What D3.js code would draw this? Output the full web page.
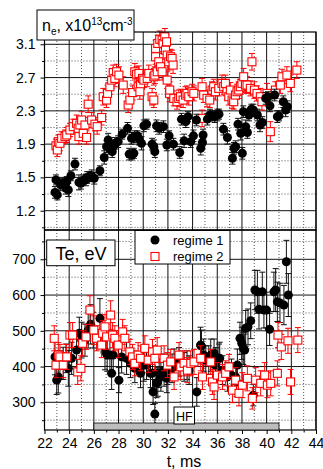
<!DOCTYPE html>
<html>
<head>
<meta charset="utf-8">
<script src="https://cdn.jsdelivr.net/npm/d3@7/dist/d3.min.js"></script>
<style>
    body { margin: 0; background: #fff; }
    svg { display: block; font-family: "Liberation Sans", Arial, sans-serif; }
</style>
</head>
<body>
<svg id="chart" width="323" height="469"></svg>
<script>
// time axis (ms)
const t_ticks = [22, 24, 26, 28, 30, 32, 34, 36, 38, 40, 42, 44];
const t_minor = [23, 25, 27, 29, 31, 33, 35, 37, 39, 41, 43];

// density axis, the lowest label reads "1.2" in the source
const ne_ticks = [1.1, 1.5, 1.9, 2.3, 2.7, 3.1];
const ne_tick_labels = ['1.2', '1.5', '1.9', '2.3', '2.7', '3.1'];
const ne_minor = [0.9, 1.3, 1.7, 2.1, 2.5, 2.9];

const te_ticks = [300, 400, 500, 600, 700];
const te_minor = [250, 350, 450, 550, 650, 750];

const hf_window = [26, 41];

// [t, value, error]
const ne_regime1 = [
    [22.85,1.32,0.07],[23.04,1.29,0.06],[22.93,1.47,0.06],[23.31,1.41,0.07],[23.52,1.43,0.06],[23.74,1.37,0.07],
    [23.8,1.45,0.06],[23.93,1.35,0.08],[24.14,1.52,0.06],[24.47,1.66,0.07],[24.79,1.44,0.09],[24.95,1.43,0.07],
    [25.14,1.47,0.06],[25.36,1.47,0.07],[25.46,1.5,0.07],[25.62,1.51,0.06],[25.82,1.52,0.07],[26.03,1.49,0.07],
    [26.49,1.58,0.06],[26.84,1.74,0.08],[27.03,1.87,0.07],[27.16,1.95,0.08],[27.3,1.85,0.07],[27.49,1.81,0.07],
    [27.57,1.87,0.06],[27.7,1.91,0.07],[27.97,1.93,0.07],[28.3,2.02,0.06],[28.73,2.09,0.07],[28.86,1.78,0.07],
    [29.08,1.77,0.06],[29.24,1.79,0.06],[29.05,1.97,0.07],[29.3,1.99,0.07],[29.54,2.0,0.06],[29.67,1.96,0.07],
    [29.86,1.91,0.08],[30.05,2.12,0.07],[30.27,2.14,0.06],[30.72,1.9,0.07],[30.86,1.87,0.08],[30.94,1.81,0.07],
    [31.08,2.12,0.07],[31.29,2.09,0.07],[31.64,2.11,0.07],[31.91,1.89,0.07],[32.1,2.0,0.06],[32.45,1.9,0.07],
    [32.96,1.8,0.07],[33.1,2.2,0.07],[33.31,1.94,0.08],[33.45,2.17,0.07],[33.63,2.23,0.06],[33.85,1.93,0.07],
    [34.07,2.0,0.07],[34.31,2.19,0.07],[34.66,1.85,0.08],[34.8,1.92,0.07],[34.85,2.01,0.07],[35.2,2.2,0.07],
    [35.41,2.25,0.07],[35.61,2.24,0.06],[35.79,2.23,0.07],[36.01,2.25,0.07],[36.14,2.26,0.06],[36.5,2.08,0.07],
    [36.82,1.98,0.08],[37.23,1.73,0.07],[37.36,1.85,0.07],[37.49,1.87,0.07],[37.68,2.14,0.07],[37.9,2.03,0.08],
    [38.03,1.79,0.07],[38.11,2.29,0.07],[38.3,2.11,0.08],[38.44,2.04,0.07],[38.57,2.25,0.07],[38.76,2.32,0.06],
    [38.92,2.31,0.07],[39.25,2.25,0.07],[39.46,2.13,0.08],[39.65,2.16,0.07],[39.92,2.45,0.07],[40.1,2.47,0.06],
    [40.27,2.36,0.07],[40.65,2.49,0.07],[40.87,2.23,0.07],[41.0,2.24,0.06],[41.35,2.41,0.07],[41.54,2.31,0.08],
    [41.68,2.35,0.07]
];

const ne_regime2 = [
    [22.93,1.88,0.08],[23.04,1.83,0.08],[23.12,1.93,0.08],[23.25,1.91,0.09],[23.39,1.97,0.08],[23.66,1.99,0.08],
    [23.8,2.01,0.09],[24.06,2.07,0.08],[24.33,2.11,0.09],[24.6,2.15,0.1],[24.73,2.09,0.08],[24.79,1.99,0.09],
    [24.87,2.13,0.08],[25.01,2.19,0.1],[25.14,2.03,0.09],[25.28,2.13,0.09],[25.41,1.98,0.08],[25.54,2.38,0.1],
    [25.82,2.19,0.09],[26.09,2.14,0.08],[26.27,2.11,0.09],[26.63,2.22,0.09],[26.76,2.47,0.1],[27.03,2.43,0.09],
    [27.11,2.51,0.1],[27.3,2.59,0.09],[27.44,2.67,0.1],[27.57,2.76,0.09],[27.7,2.69,0.1],[27.84,2.77,0.09],
    [28.03,2.73,0.1],[28.38,2.61,0.1],[28.78,2.37,0.09],[28.92,2.43,0.09],[29.14,2.52,0.09],[29.32,2.77,0.1],
    [29.46,2.74,0.09],[29.59,2.59,0.1],[29.65,2.75,0.09],[29.78,2.61,0.1],[29.73,2.53,0.09],[29.94,2.69,0.1],
    [30.05,2.67,0.09],[30.32,2.69,0.1],[30.45,2.75,0.1],[30.72,2.47,0.1],[30.86,2.43,0.09],[30.86,2.71,0.1],
    [30.94,2.73,0.1],[31.0,3.05,0.1],[31.0,2.95,0.09],[31.13,2.77,0.1],[31.18,3.11,0.1],[31.26,2.89,0.1],
    [31.34,3.16,0.1],[31.4,2.83,0.1],[31.53,3.15,0.09],[31.53,2.77,0.1],[31.61,3.11,0.1],[31.75,3.19,0.1],
    [31.8,3.03,0.1],[31.89,3.13,0.09],[31.94,2.97,0.1],[31.94,2.67,0.1],[32.07,2.89,0.1],[32.13,2.51,0.1],
    [32.15,2.55,0.1],[32.21,2.95,0.09],[32.34,2.93,0.1],[32.42,2.85,0.1],[32.48,2.45,0.09],[32.74,2.41,0.09],
    [32.88,2.45,0.1],[33.02,2.47,0.09],[33.23,2.43,0.09],[33.42,2.49,0.1],[33.55,2.51,0.09],[33.69,2.47,0.1],
    [33.96,2.53,0.09],[34.1,2.51,0.09],[34.77,2.59,0.1],[34.77,2.21,0.1],[34.9,2.49,0.09],[35.17,2.45,0.1],
    [35.39,2.43,0.09],[35.58,2.55,0.1],[35.71,2.59,0.09],[35.85,2.53,0.1],[36.12,2.57,0.09],[36.38,2.63,0.1],
    [36.52,2.59,0.09],[36.66,2.63,0.1],[36.79,2.53,0.09],[36.93,2.47,0.1],[37.06,2.55,0.09],[37.2,2.43,0.1],
    [37.33,2.41,0.09],[37.47,2.49,0.1],[37.6,2.53,0.09],[37.74,2.55,0.1],[37.87,2.59,0.09],[38.0,2.63,0.1],
    [38.14,2.71,0.1],[38.28,2.61,0.09],[38.41,2.61,0.1],[38.68,2.57,0.09],[38.81,2.89,0.1],[39.01,2.55,0.1],
    [39.22,2.51,0.09],[39.49,2.47,0.1],[39.62,2.41,0.1],[40.03,2.51,0.12],[40.3,2.05,0.12],[40.71,2.55,0.1],
    [41.11,2.61,0.1],[41.24,2.71,0.09],[41.64,2.73,0.1],[41.92,2.63,0.1],[42.45,2.79,0.1]
];

const te_regime1 = [
    [22.85,427,50],[22.99,362,40],[23.12,371,45],[23.25,404,40],[23.52,409,45],[23.74,423,40],[23.93,395,50],
    [24.2,423,45],[24.6,446,50],[24.82,493,45],[25.01,474,50],[25.28,474,45],[25.54,502,50],[25.74,518,55],
    [25.95,502,50],[26.49,535,55],[26.9,441,50],[27.08,432,45],[27.3,432,50],[27.44,381,45],[27.57,432,50],
    [28.03,362,35],[28.25,427,45],[28.65,423,45],[28.97,409,40],[29.32,395,40],[29.78,381,40],[30.05,404,45],
    [30.27,404,40],[30.59,381,40],[30.75,381,40],[30.8,329,35],[30.94,267,30],[31.08,353,40],[31.18,357,40],
    [31.29,381,40],[31.43,371,40],[31.69,390,45],[31.91,367,40],[31.94,390,40],[32.34,395,40],[32.5,409,40],
    [32.9,413,40],[33.31,399,40],[33.55,404,40],[33.72,390,40],[34.34,329,40],[34.64,460,50],[34.72,457,45],
    [34.9,432,45],[35.07,418,40],[35.31,418,40],[35.47,432,45],[35.74,437,40],[35.85,404,40],[35.88,413,40],
    [36.14,423,40],[36.2,423,45],[36.42,390,40],[36.82,371,40],[37.15,376,45],[37.49,371,40],[37.57,357,40],
    [37.63,404,45],[37.84,479,45],[37.98,465,45],[38.11,451,45],[38.22,446,45],[38.3,507,50],[38.49,511,50],
    [38.71,528,50],[38.92,320,30],[39.05,614,55],[39.25,609,60],[39.38,560,55],[39.65,609,55],[39.78,558,50],
    [40.0,558,50],[40.24,504,45],[40.59,609,55],[40.73,614,60],[40.87,581,55],[41.08,578,55],[41.4,572,55],
    [41.6,693,60],[41.76,600,60]
];

const te_regime2 = [
    [22.79,479,35],[22.93,404,35],[23.12,432,35],[23.25,427,35],[23.52,404,35],[23.8,427,35],[24.06,488,35],
    [24.28,488,35],[24.69,385,35],[24.95,395,35],[25.09,465,35],[25.36,483,35],[25.68,558,40],[26.0,502,40],
    [26.22,479,35],[26.63,460,35],[26.71,493,35],[26.9,511,35],[27.03,483,35],[27.36,544,40],[27.52,488,35],
    [27.7,479,35],[27.97,460,35],[28.33,497,35],[28.51,479,35],[28.92,441,35],[29.13,427,35],[29.32,409,35],
    [29.59,432,35],[29.78,423,35],[30.13,451,35],[30.4,418,35],[30.75,441,35],[30.94,423,35],[31.13,446,35],
    [31.69,423,35],[31.97,404,35],[32.23,413,35],[32.5,371,35],[32.9,432,35],[33.04,399,35],[33.31,409,35],
    [33.58,390,35],[33.85,409,35],[34.12,413,35],[34.66,423,35],[34.8,371,35],[35.47,413,35],[35.61,357,35],
    [35.74,343,35],[36.01,376,35],[36.42,371,35],[36.68,381,35],[36.95,399,35],[37.23,334,35],[37.49,362,35],
    [37.76,325,35],[38.03,348,35],[38.44,367,35],[38.84,311,30],[39.11,362,35],[39.52,353,35],[39.84,376,35],
    [40.06,348,35],[40.33,353,35],[40.87,381,35],[40.92,488,35],[41.19,455,35],[41.73,472,35],[41.94,357,35],
    [42.53,474,35]
];

const frame = { left: 44.5, right: 316, top: 32, mid: 230, bottom: 430 };
const red = '#ff0000';

const svg = d3.select('#chart');

const x = d3.scaleLinear().domain([22, 44]).range([frame.left, frame.right]);
const y_ne = d3.scaleLinear().domain([1.1, 3.1]).range([210.7, 44.3]);
const y_te = d3.scaleLinear().domain([300, 700]).range([402.3, 259.3]);

function draw_grid(y, top, bottom, major, minor) {
    const g = svg.append('g').attr('class', 'grid');

    g.selectAll('.vmin').data(t_minor).enter().append('line')
        .attr('x1', d => x(d)).attr('x2', d => x(d))
        .attr('y1', top).attr('y2', bottom)
        .attr('stroke', '#555').attr('stroke-width', 1).attr('stroke-dasharray', '1,2');

    g.selectAll('.hmin').data(minor.filter(d => y(d) > top && y(d) < bottom)).enter().append('line')
        .attr('x1', frame.left).attr('x2', frame.right)
        .attr('y1', d => y(d)).attr('y2', d => y(d))
        .attr('stroke', '#555').attr('stroke-width', 1).attr('stroke-dasharray', '1,2');

    g.selectAll('.vmaj').data(t_ticks).enter().append('line')
        .attr('x1', d => x(d)).attr('x2', d => x(d))
        .attr('y1', top).attr('y2', bottom)
        .attr('stroke', '#111').attr('stroke-width', 1);

    g.selectAll('.hmaj').data(major).enter().append('line')
        .attr('x1', frame.left).attr('x2', frame.right)
        .attr('y1', d => y(d)).attr('y2', d => y(d))
        .attr('stroke', '#111').attr('stroke-width', 1);
}

function draw_points(y, data, kind) {
    const g = svg.append('g');
    const color = kind === 'circle' ? '#111' : red;
    const cap = 3;

    const bars = g.selectAll('.err').data(data).enter().append('g');
    bars.append('line')
        .attr('x1', d => x(d[0])).attr('x2', d => x(d[0]))
        .attr('y1', d => y(d[1] - d[2])).attr('y2', d => y(d[1] + d[2]))
        .attr('stroke', color).attr('stroke-width', 1);
    bars.append('line')
        .attr('x1', d => x(d[0]) - cap).attr('x2', d => x(d[0]) + cap)
        .attr('y1', d => y(d[1] + d[2])).attr('y2', d => y(d[1] + d[2]))
        .attr('stroke', color).attr('stroke-width', 1);
    bars.append('line')
        .attr('x1', d => x(d[0]) - cap).attr('x2', d => x(d[0]) + cap)
        .attr('y1', d => y(d[1] - d[2])).attr('y2', d => y(d[1] - d[2]))
        .attr('stroke', color).attr('stroke-width', 1);

    if (kind === 'circle') {
        g.selectAll('.pt').data(data).enter().append('circle')
            .attr('cx', d => x(d[0])).attr('cy', d => y(d[1]))
            .attr('r', 4.5).attr('fill', '#000');
    } else {
        const s = 8;
        g.selectAll('.pt').data(data).enter().append('rect')
            .attr('x', d => x(d[0]) - s / 2).attr('y', d => y(d[1]) - s / 2)
            .attr('width', s).attr('height', s)
            .attr('fill', '#fff').attr('stroke', red).attr('stroke-width', 1.1);
    }
}

// grids
draw_grid(y_ne, frame.top, frame.mid, ne_ticks, ne_minor);
draw_grid(y_te, frame.mid, frame.bottom, te_ticks, te_minor);

// data
draw_points(y_ne, ne_regime2, 'square');
draw_points(y_ne, ne_regime1, 'circle');
draw_points(y_te, te_regime1, 'circle');
draw_points(y_te, te_regime2, 'square');

// frames
svg.append('rect')
    .attr('x', frame.left).attr('y', frame.top)
    .attr('width', frame.right - frame.left).attr('height', frame.mid - frame.top)
    .attr('fill', 'none').attr('stroke', '#000').attr('stroke-width', 1.2);
svg.append('rect')
    .attr('x', frame.left).attr('y', frame.mid)
    .attr('width', frame.right - frame.left).attr('height', frame.bottom - frame.mid)
    .attr('fill', 'none').attr('stroke', '#000').attr('stroke-width', 1.2);

// axes
function style_axis(g) {
    g.select('.domain').remove();
    g.selectAll('.tick line').attr('stroke', '#000');
    g.selectAll('.tick text').attr('fill', '#000').style('font-size', '14px')
        .style('font-family', '"Liberation Sans", Arial, sans-serif');
}

svg.append('g')
    .attr('transform', `translate(${frame.left},0)`)
    .call(d3.axisLeft(y_ne).tickValues(ne_ticks).tickFormat((d, i) => ne_tick_labels[i]).tickSize(4).tickPadding(5))
    .call(style_axis);
svg.append('g')
    .attr('transform', `translate(${frame.left},0)`)
    .call(d3.axisLeft(y_ne).tickValues(ne_minor.filter(d => y_ne(d) > frame.top && y_ne(d) < frame.mid)).tickFormat('').tickSize(2.5))
    .call(style_axis);

svg.append('g')
    .attr('transform', `translate(${frame.left},0)`)
    .call(d3.axisLeft(y_te).tickValues(te_ticks).tickSize(4).tickPadding(5))
    .call(style_axis);
svg.append('g')
    .attr('transform', `translate(${frame.left},0)`)
    .call(d3.axisLeft(y_te).tickValues(te_minor.filter(d => y_te(d) > frame.mid && y_te(d) < frame.bottom)).tickFormat('').tickSize(2.5))
    .call(style_axis);

svg.append('g')
    .attr('transform', `translate(0,${frame.bottom})`)
    .call(d3.axisBottom(x).tickValues(t_ticks).tickSize(4).tickPadding(4))
    .call(style_axis);
svg.append('g')
    .attr('transform', `translate(0,${frame.bottom})`)
    .call(d3.axisBottom(x).tickValues(t_minor).tickFormat('').tickSize(2.5))
    .call(style_axis);

svg.append('text')
    .attr('x', 184).attr('y', 467)
    .attr('text-anchor', 'middle')
    .style('font-size', '16px')
    .text('t, ms');

// HF heating window
svg.append('rect')
    .attr('x', x(hf_window[0])).attr('y', 423)
    .attr('width', x(hf_window[1]) - x(hf_window[0])).attr('height', 7)
    .attr('fill', '#bdbdbd').attr('stroke', '#000').attr('stroke-width', 0.8);
svg.append('rect')
    .attr('x', 174).attr('y', 407).attr('width', 20.5).attr('height', 17)
    .attr('fill', '#fff').attr('stroke', '#000').attr('stroke-width', 1);
svg.append('text')
    .attr('x', 184.3).attr('y', 420.5).attr('text-anchor', 'middle')
    .style('font-size', '12.5px').text('HF');

// panel titles
svg.append('rect')
    .attr('x', 37).attr('y', 10).attr('width', 97).attr('height', 30)
    .attr('fill', '#fff').attr('stroke', '#000').attr('stroke-width', 1);
const ne_title = svg.append('text').attr('x', 42).attr('y', 31).style('font-size', '16px');
ne_title.append('tspan').text('n');
ne_title.append('tspan').attr('dy', 4).style('font-size', '10px').text('e');
ne_title.append('tspan').attr('dy', -4).text(', x10');
ne_title.append('tspan').attr('dy', -6).style('font-size', '10px').text('13');
ne_title.append('tspan').attr('dy', 6).text('cm');
ne_title.append('tspan').attr('dy', -6).style('font-size', '10px').text('-3');

svg.append('rect')
    .attr('x', 46.7).attr('y', 240).attr('width', 68.3).attr('height', 25.7)
    .attr('fill', '#fff').attr('stroke', '#000').attr('stroke-width', 1);
svg.append('text')
    .attr('x', 81).attr('y', 259.5).attr('text-anchor', 'middle')
    .style('font-size', '18px').text('Te, eV');

// legend
const legend_items = [
    { label: 'regime 1', kind: 'circle' },
    { label: 'regime 2', kind: 'square' }
];
svg.append('rect')
    .attr('x', 135).attr('y', 230.5).attr('width', 95).attr('height', 33.5)
    .attr('fill', '#fff').attr('stroke', '#000').attr('stroke-width', 1);
const legend = svg.selectAll('.legend').data(legend_items).enter().append('g')
    .attr('transform', (d, i) => `translate(155, ${240 + i * 16.5})`);
legend.filter(d => d.kind === 'circle').append('circle').attr('r', 4.5).attr('fill', '#000');
legend.filter(d => d.kind === 'square').append('rect')
    .attr('x', -4).attr('y', -4).attr('width', 8).attr('height', 8)
    .attr('fill', '#fff').attr('stroke', red).attr('stroke-width', 1.1);
legend.append('text')
    .attr('x', 18).attr('y', 4.5)
    .style('font-size', '13px')
    .text(d => d.label);
</script>
</body>
</html>
